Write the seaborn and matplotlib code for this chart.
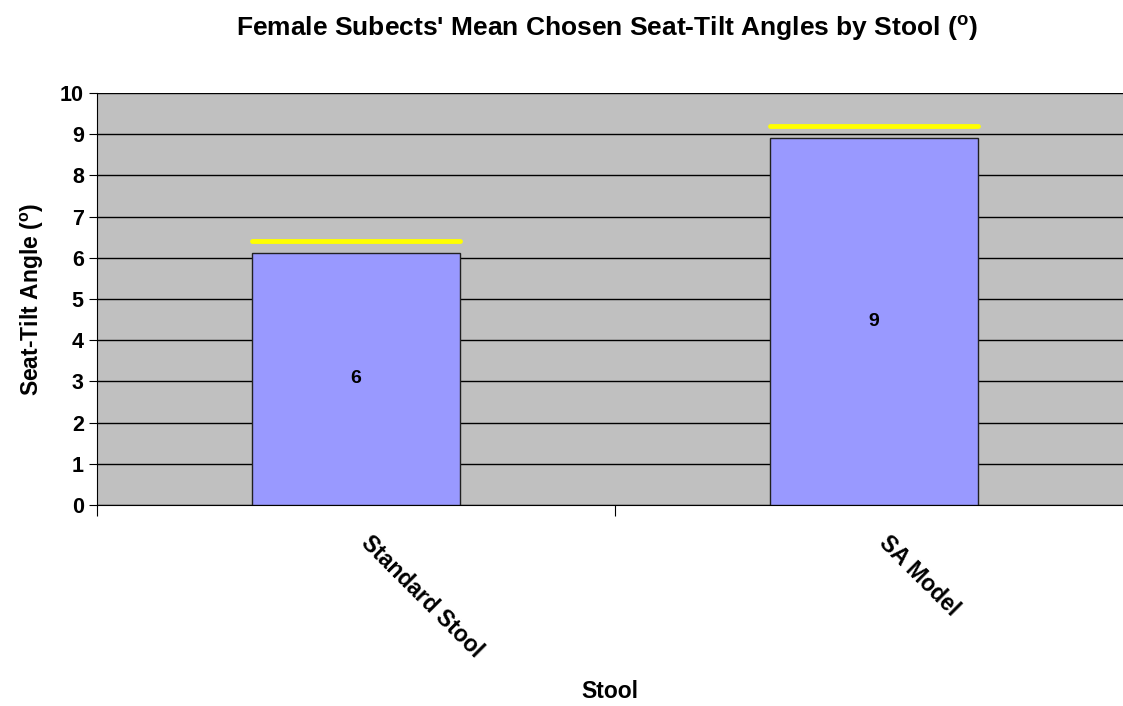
import matplotlib
matplotlib.use("Agg")
import matplotlib.pyplot as plt
import matplotlib.transforms as mtransforms
import seaborn as sns
import pandas as pd

stools = ["Standard Stool", "SA Model"]
mean_tilt = [6.12, 8.9]
upper_mark = [6.41, 9.2]
bar_labels = ["6", "9"]

df = pd.DataFrame({"Stool": stools, "Angle": mean_tilt})

sns.set_style("white")
plt.rcParams['font.family'] = ['Liberation Sans', 'DejaVu Sans']
plt.rcParams['text.color'] = 'black'
plt.rcParams['axes.labelcolor'] = 'black'
plt.rcParams['xtick.color'] = 'black'
plt.rcParams['ytick.color'] = 'black'

fig = plt.figure(figsize=(11.23, 7.06), dpi=100)
ax = fig.add_axes([97 / 1123, 201 / 706, 1036 / 1123, 412 / 706])
ax.set_facecolor("#C0C0C0")

sns.barplot(data=df, x="Stool", y="Angle", color="#9999FF", saturation=1,
            width=0.4, edgecolor="#202020", linewidth=1, ax=ax, zorder=3)

# yellow marks above bars
for i, v in enumerate(upper_mark):
    ax.hlines(v, i - 0.2, i + 0.2, colors="#FFFF00", linewidth=3.5,
              capstyle="round", zorder=4)

for i, (v, lab) in enumerate(zip(mean_tilt, bar_labels)):
    ax.text(i, v / 2, lab, ha="center", va="center", fontsize=14,
            fontweight="bold", zorder=5)

ax.set_ylim(0, 10)
ax.set_xlim(-0.5, 1.5)
ax.set_yticks(range(0, 11))
ax.yaxis.grid(True, color="black", linewidth=1, zorder=0)
ax.set_axisbelow(True)

for s in ["top", "right"]:
    ax.spines[s].set_visible(False)
ax.spines["left"].set_color("black")
ax.spines["bottom"].set_color("black")

# category boundaries get the tick marks, names go in rotated text
ax.set_xticks([-0.5, 0.5, 1.5])
ax.set_xticklabels([])
shift = mtransforms.ScaledTranslation(17 / 100, -26 / 100, fig.dpi_scale_trans)
for i, name in enumerate(stools):
    ax.text(i, 0, name, transform=ax.get_xaxis_transform() + shift,
            rotation=-45, ha="left", va="top", rotation_mode="anchor",
            fontsize=16.5, fontweight="bold", clip_on=False)
ax.tick_params(axis="x", length=8, direction="out", bottom=True, color="black")
ax.tick_params(axis="y", length=6, direction="out", left=True,
               labelsize=15.5, color="black")
for t in ax.get_yticklabels():
    t.set_fontweight("bold")

ax.set_ylabel("Seat-Tilt Angle ($^{\\mathregular{o}}$)", fontsize=16.5,
              fontweight="bold", labelpad=10)
ax.set_xlabel("Stool", fontsize=16.5, fontweight="bold")
ax.xaxis.set_label_coords((610 - 97) / 1036, -(692 - 505) / 412)
ax.xaxis.label.set_va("center")

fig.text(607 / 1123, 1 - 28 / 706,
         "Female Subects' Mean Chosen Seat-Tilt Angles by Stool ($^{\\mathregular{o}}$)",
         ha="center", va="center", fontsize=19, fontweight="bold")

fig.savefig("out.png", dpi=100)
